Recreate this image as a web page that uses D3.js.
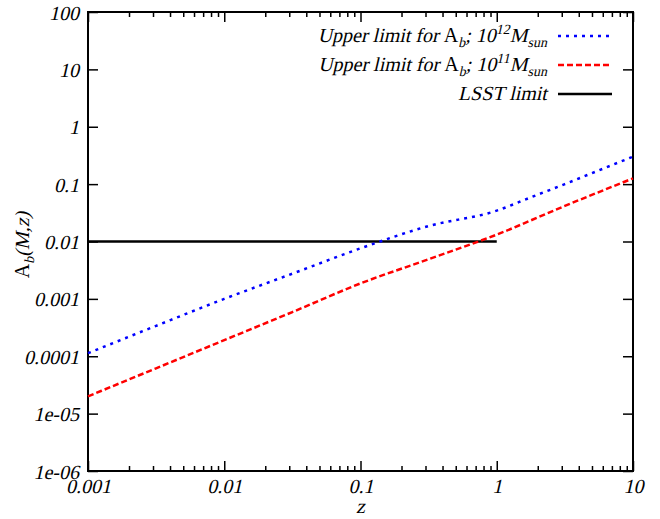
<!DOCTYPE html>
<html>
<head>
<meta charset="utf-8">
<script src="https://cdn.jsdelivr.net/npm/d3@7"></script>
<style>
  body { margin: 0; background: #fff; }
  svg text { font-family: "Liberation Serif", "Times New Roman", serif; font-style: normal; fill: #000; }
</style>
</head>
<body>
<script>
// redshift samples
const zBlue = [0.001, 0.00316, 0.01, 0.0316, 0.1, 0.316, 1, 1.78, 3.16, 5.62, 10];
const aBlue = [1.13e-4, 3.39e-4, 1.0e-3, 2.75e-3, 7.6e-3, 0.0186, 0.0345, 0.0589, 0.100, 0.174, 0.301];
const zRed = [0.001, 0.00316, 0.01, 0.0316, 0.1, 0.316, 1, 3.16, 10];
const aRed = [2.0e-5, 6.17e-5, 1.91e-4, 5.89e-4, 1.86e-3, 4.9e-3, 0.0132, 0.0417, 0.126];
const zLsst = [0.001, 1];
const aLsst = [0.01, 0.01];

const xTicks = [0.001, 0.01, 0.1, 1, 10];
const xTickLabels = ['0.001', '0.01', '0.1', '1', '10'];
const yTicks = [1e-6, 1e-5, 1e-4, 1e-3, 1e-2, 0.1, 1, 10, 100];
const yTickLabels = ['1e-06', '1e-05', '0.0001', '0.001', '0.01', '0.1', '1', '10', '100'];

const W = 660, H = 519;
const margin = { top: 12, right: 27, bottom: 48, left: 88 };
const width = W - margin.left - margin.right;
const height = H - margin.top - margin.bottom;
const SKEW = 'skewX(-13)'; // fake italic (no serif italic face installed)
const FS = 20, FS_SMALL = 14;

const svg = d3.select('body').append('svg')
    .attr('width', W)
    .attr('height', H);

const g = svg.append('g')
    .attr('transform', `translate(${margin.left},${margin.top})`);

const x = d3.scaleLog().domain([0.001, 10]).range([0, width]);
const y = d3.scaleLog().domain([1e-6, 100]).range([height, 0]);

// minor ticks on x (2..9 of each decade)
const xMinor = [];
for (let e = -3; e < 1; e++) {
    for (let m = 2; m < 10; m++) xMinor.push(m * Math.pow(10, e));
}

function noLabels(a) { return a.tickFormat(() => ''); }

// bottom axis
const bx = g.append('g').attr('transform', `translate(0,${height})`)
    .call(d3.axisBottom(x).tickValues(xTicks).tickSizeInner(-10).tickSizeOuter(0)
        .tickFormat((d, i) => xTickLabels[i]));
g.append('g').attr('transform', `translate(0,${height})`)
    .call(noLabels(d3.axisBottom(x).tickValues(xMinor).tickSizeInner(-5).tickSizeOuter(0)));
// top axis (mirror)
g.append('g')
    .call(noLabels(d3.axisTop(x).tickValues(xTicks).tickSizeInner(-10).tickSizeOuter(0)));
g.append('g')
    .call(noLabels(d3.axisTop(x).tickValues(xMinor).tickSizeInner(-5).tickSizeOuter(0)));
// left axis
const ly = g.append('g')
    .call(d3.axisLeft(y).tickValues(yTicks).tickSizeInner(-10).tickSizeOuter(0)
        .tickFormat((d, i) => yTickLabels[i]));
// right axis (mirror)
g.append('g').attr('transform', `translate(${width},0)`)
    .call(noLabels(d3.axisRight(y).tickValues(yTicks).tickSizeInner(-10).tickSizeOuter(0)));

g.selectAll('.domain').remove();
g.selectAll('.tick line').attr('stroke', '#000').attr('stroke-width', 1.5);
g.selectAll('.tick text')
    .attr('font-family', null)
    .style('font-size', FS + 'px').attr('fill', '#000')
    .attr('x', 0).attr('y', 0).attr('dy', null);
bx.selectAll('.tick text').attr('transform', `translate(0,22) ${SKEW}`);
ly.selectAll('.tick text').attr('transform', `translate(-9,7) ${SKEW}`);

// frame
g.append('rect')
    .attr('width', width).attr('height', height)
    .attr('fill', 'none').attr('stroke', '#000').attr('stroke-width', 2);

const line = d3.line()
    .x(d => x(d[0]))
    .y(d => y(d[1]))
    .curve(d3.curveMonotoneX);

const series = [
    { z: zLsst, a: aLsst, color: '#000', dash: null },
    { z: zRed, a: aRed, color: '#ff0000', dash: '6,3' },
    { z: zBlue, a: aBlue, color: '#0000ff', dash: '3,5' }
];

series.forEach(s => {
    g.append('path')
        .datum(s.z.map((z, i) => [z, s.a[i]]))
        .attr('d', line)
        .attr('fill', 'none')
        .attr('stroke', s.color)
        .attr('stroke-width', 2.5)
        .attr('stroke-dasharray', s.dash);
});

// rich text: pieces laid out left to right, italic pieces skewed
function richText(parent, px, py, pieces, anchor, rotate) {
    const grp = parent.append('g');
    let cx = 0;
    pieces.forEach(p => {
        const t = grp.append('text')
            .style('font-size', (p.size || FS) + 'px')
            .text(p.t);
        const w = t.node().getComputedTextLength();
        t.attr('transform', `translate(${cx},${p.dy || 0})` + (p.up ? '' : ' ' + SKEW));
        cx += w;
    });
    const off = anchor === 'end' ? -cx : anchor === 'middle' ? -cx / 2 : 0;
    grp.attr('transform', `translate(${px},${py})` + (rotate ? ` rotate(${rotate})` : '') + ` translate(${off},0)`);
    return grp;
}

// axis titles
richText(svg, margin.left + width / 2, 513, [{ t: 'z' }], 'middle');
richText(svg, 29, 245, [
    { t: 'A', up: true },
    { t: 'b', size: FS_SMALL, dy: 5 },
    { t: '(M,z)' }
], 'middle', -90);

// legend
const legend = [
    { color: '#0000ff', dash: '3,5', exp: '12' },
    { color: '#ff0000', dash: '6,3', exp: '11' },
    { color: '#000', dash: null, exp: null }
];
const textRight = 547, lineX0 = 558, lineX1 = 612;
legend.forEach((d, i) => {
    const yy = 36 + i * 29;
    svg.append('line')
        .attr('x1', lineX0).attr('x2', lineX1)
        .attr('y1', yy).attr('y2', yy)
        .attr('stroke', d.color).attr('stroke-width', 2.5)
        .attr('stroke-dasharray', d.dash);
    const pieces = d.exp ? [
        { t: 'Upper limit for\u00a0' },
        { t: 'A', up: true },
        { t: 'b', size: FS_SMALL, dy: 5 },
        { t: ';\u00a010' },
        { t: d.exp, size: FS_SMALL, dy: -8 },
        { t: 'M' },
        { t: 'sun', size: FS_SMALL, dy: 5 }
    ] : [{ t: 'LSST limit' }];
    richText(svg, textRight, yy + 6, pieces, 'end');
});
</script>
</body>
</html>
